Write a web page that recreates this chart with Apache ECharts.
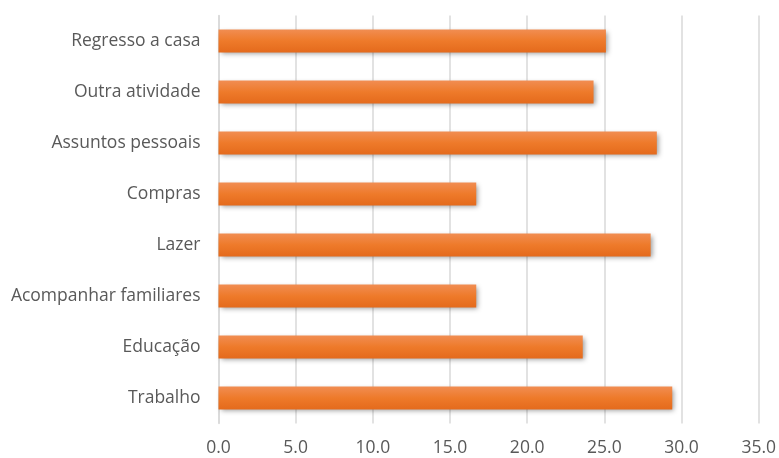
<!DOCTYPE html>
<html>
<head>
<meta charset="utf-8">
<script src="https://cdn.jsdelivr.net/npm/echarts@6/dist/echarts.min.js"></script>
<style>html,body{margin:0;padding:0;background:#fff;}#c{width:779px;height:458px;}</style>
</head>
<body>
<div id="c"></div>
<script>
var categories = ["Trabalho", "Educação", "Acompanhar familiares", "Lazer", "Compras", "Assuntos pessoais", "Outra atividade", "Regresso a casa"];
var values = [29.4, 23.6, 16.7, 28.0, 16.7, 28.4, 24.3, 25.1];
var xTicks = {min: 0, max: 35, interval: 5};

var chart = echarts.init(document.getElementById('c'));
chart.setOption({
  animation: false,
  grid: {left: 218.5, right: 19, top: 15.5, bottom: 34.5},
  xAxis: {
    type: 'value', min: xTicks.min, max: xTicks.max, interval: xTicks.interval,
    axisLine: {show: false}, axisTick: {show: false},
    splitLine: {lineStyle: {color: '#D9D9D9', width: 1.5}},
    axisLabel: {formatter: function(v){return v.toFixed(1);}, color: '#595959', fontFamily: 'Open Sans', fontSize: 17.5, margin: 16}
  },
  yAxis: {
    type: 'category', data: categories,
    axisLine: {lineStyle: {color: '#D9D9D9', width: 1.5}}, axisTick: {show: false},
    axisLabel: {color: '#595959', fontFamily: 'Open Sans', fontSize: 17.5, margin: 18}
  },
  series: [{
    type: 'bar', data: values, barCategoryGap: '55%',
    itemStyle: {
      color: new echarts.graphic.LinearGradient(0, 0, 0, 1, [
        {offset: 0, color: '#F18D52'}, {offset: 0.5, color: '#EE7A2A'}, {offset: 1, color: '#E46A1C'}
      ]),
      shadowColor: 'rgba(0,0,0,0.4)', shadowBlur: 5, shadowOffsetX: 2, shadowOffsetY: 2
    }
  }]
});
</script>
</body>
</html>
